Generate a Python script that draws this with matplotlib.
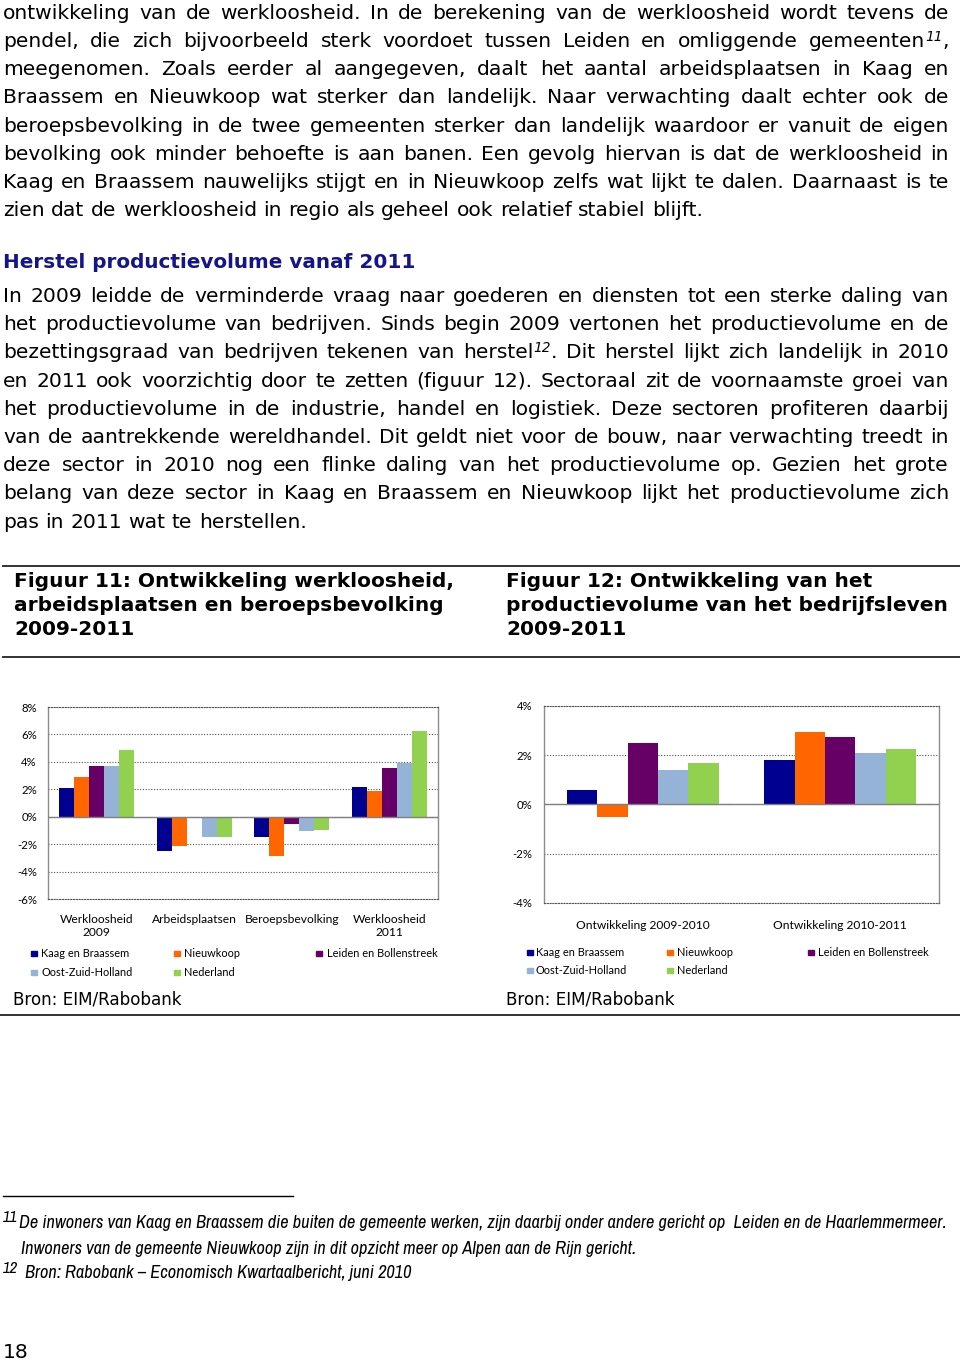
import matplotlib
matplotlib.use('Agg')
import matplotlib.pyplot as plt
from matplotlib.patches import Rectangle
from matplotlib import font_manager
from matplotlib.font_manager import FontProperties
import numpy as np

# reeksen en kleuren
series = ['Kaag en Braassem', 'Nieuwkoop', 'Leiden en Bollenstreek',
          'Oost-Zuid-Holland', 'Nederland']
colors = ['#000090', '#FF6600', '#660066', '#95B3D7', '#92D050']

# figuur 11
fig11_cats = ['Werkloosheid\n2009', 'Arbeidsplaatsen', 'Beroepsbevolking', 'Werkloosheid\n2011']
fig11_kaag = [2.1, -2.5, -1.45, 2.2]
fig11_nieuwkoop = [2.9, -2.15, -2.85, 1.9]
fig11_leiden = [3.7, -0.12, -0.55, 3.55]
fig11_ozh = [3.7, -1.5, -1.05, 3.9]
fig11_nl = [4.85, -1.5, -0.95, 6.25]

# figuur 12
fig12_cats = ['Ontwikkeling 2009-2010', 'Ontwikkeling 2010-2011']
fig12_kaag = [0.6, 1.8]
fig12_nieuwkoop = [-0.5, 2.93]
fig12_leiden = [2.5, 2.74]
fig12_ozh = [1.42, 2.1]
fig12_nl = [1.67, 2.26]

# '|' markeert een voetnootnummer (superscript)
para1 = [
    "ontwikkeling van de werkloosheid. In de berekening van de werkloosheid wordt tevens de",
    "pendel, die zich bijvoorbeeld sterk voordoet tussen Leiden en omliggende gemeenten|11|,",
    "meegenomen. Zoals eerder al aangegeven, daalt het aantal arbeidsplaatsen in Kaag en",
    "Braassem en Nieuwkoop wat sterker dan landelijk. Naar verwachting daalt echter ook de",
    "beroepsbevolking in de twee gemeenten sterker dan landelijk waardoor er vanuit de eigen",
    "bevolking ook minder behoefte is aan banen. Een gevolg hiervan is dat de werkloosheid in",
    "Kaag en Braassem nauwelijks stijgt en in Nieuwkoop zelfs wat lijkt te dalen. Daarnaast is te",
    "zien dat de werkloosheid in regio als geheel ook relatief stabiel blijft.",
]
heading = "Herstel productievolume vanaf 2011"
para2 = [
    "In 2009 leidde de verminderde vraag naar goederen en diensten tot een sterke daling van",
    "het productievolume van bedrijven. Sinds begin 2009 vertonen het productievolume en de",
    "bezettingsgraad van bedrijven tekenen van herstel|12|. Dit herstel lijkt zich landelijk in 2010",
    "en 2011 ook voorzichtig door te zetten (figuur 12). Sectoraal zit de voornaamste groei van",
    "het productievolume in de industrie, handel en logistiek. Deze sectoren profiteren daarbij",
    "van de aantrekkende wereldhandel. Dit geldt niet voor de bouw, naar verwachting treedt in",
    "deze sector in 2010 nog een flinke daling van het productievolume op. Gezien het grote",
    "belang van deze sector in Kaag en Braassem en Nieuwkoop lijkt het productievolume zich",
    "pas in 2011 wat te herstellen.",
]
title11 = ["Figuur 11: Ontwikkeling werkloosheid,", "arbeidsplaatsen en beroepsbevolking", "2009-2011"]
title12 = ["Figuur 12: Ontwikkeling van het", "productievolume van het bedrijfsleven", "2009-2011"]
bron = "Bron: EIM/Rabobank"
notes = [
    "De inwoners van Kaag en Braassem die buiten de gemeente werken, zijn daarbij onder andere gericht op  Leiden en de Haarlemmermeer.",
    "Inwoners van de gemeente Nieuwkoop zijn in dit opzicht meer op Alpen aan de Rijn gericht.",
    "Bron: Rabobank \u2013 Economisch Kwartaalbericht, juni 2010",
]

# smal cursief lettertype voor de voetnoten zoeken
note_path = None
for f in font_manager.fontManager.ttflist:
    fn = f.fname.lower()
    if 'narrow' in fn and 'italic' in fn and 'bold' not in fn:
        note_path = f.fname
        break
if note_path is None:
    for f in font_manager.fontManager.ttflist:
        fn = f.fname.lower()
        if 'condensed' in fn and 'oblique' in fn and 'bold' not in fn and 'dejavusans' in fn:
            note_path = f.fname
            break
if note_path:
    note_kw = dict(fontproperties=FontProperties(fname=note_path))
else:
    note_kw = dict(family='Liberation Sans', style='italic')
chart_font = 'Lato'

fig = plt.figure(figsize=(9.6, 13.6), dpi=100)
page = fig.add_axes([0, 0, 1, 1])
page.set_xlim(0, 960)
page.set_ylim(1360, 0)
page.axis('off')
renderer = fig.canvas.get_renderer()


def width(s, size, **kw):
    t = page.text(0, 0, s, **kw)
    t.set_fontsize(size)
    w = t.get_window_extent(renderer).width
    t.remove()
    return w


def fit(s, target, **kw):
    return 10 * target / width(s, 10, **kw)


def word(w, x, y, size, draw=True, **kw):
    # tekent een woord, eventueel met superscript, en geeft de breedte terug
    parts = w.split('|')
    total = 0
    for k, p in enumerate(parts):
        if not p:
            continue
        if k == 1:
            s, dy, extra = size * 0.68, -6.5, dict(style='italic')
        else:
            s, dy, extra = size, 0, {}
        if draw:
            page.text(x + total, y + dy, p, fontsize=s, va='baseline', **extra, **kw)
        total += width(p, s, **extra, **kw)
    return total


def justify(line, y, size, left=3, right=949, last=False, **kw):
    words = line.split(' ')
    ws = [word(w, 0, 0, size, draw=False, **kw) for w in words]
    if last:
        gap = width('a b', size, **kw) - width('ab', size, **kw)
    else:
        gap = (right - left - sum(ws)) / (len(words) - 1)
    x = left
    for w, wd in zip(words, ws):
        word(w, x, y, size, **kw)
        x += wd + gap


# lopende tekst
body = fit(para1[-1], 701)
for i, line in enumerate(para1):
    justify(line, 19 + i * 28.15, body, last=(i == len(para1) - 1))
page.text(3, 268, heading, fontsize=fit(heading, 412, weight='bold'),
          weight='bold', color='#15158A', va='baseline')
for i, line in enumerate(para2):
    justify(line, 302 + i * 28.2, body, last=(i == len(para2) - 1))

# figuurtitels
tsize = fit(title11[0], 439, weight='bold')
for i, (a, b) in enumerate(zip(title11, title12)):
    page.text(14, 587 + i * 24, a, fontsize=tsize, weight='bold', va='baseline')
    page.text(506, 587 + i * 24, b, fontsize=tsize, weight='bold', va='baseline')
page.plot([3, 960], [566, 566], color='#333333', lw=1.4)
page.plot([3, 960], [657, 657], color='#333333', lw=1.4)

bsize = fit(bron, 170)
page.text(13, 1004, bron, fontsize=bsize, va='baseline')
page.text(506, 1004, bron, fontsize=bsize, va='baseline')
page.plot([0, 960], [1015, 1015], color='#333333', lw=1.4)

# voetnoten
page.plot([3, 293], [1196, 1196], color='black', lw=1)
nsize = fit(notes[0], 929, **note_kw)
for s, x, y, sz in [('11', 3, 1222, nsize * 0.9), (notes[0], 19, 1228, nsize),
                    (notes[1], 21, 1254, nsize), ('12', 3, 1273, nsize * 0.9),
                    (notes[2], 25, 1278, nsize)]:
    t = page.text(x, y, s, va='baseline', **note_kw)
    t.set_fontsize(sz)
page.text(3, 1358, '18', fontsize=body, va='baseline')


def bar_chart(rect, cats, values, ymin, ymax, pad_y, pad_x, size_tick, size_cat):
    ax = fig.add_axes(rect)
    x = np.arange(len(cats))
    w = 0.77 / len(values)
    for j, vals in enumerate(values):
        ax.bar(x + (j - 2) * w, vals, w, color=colors[j], zorder=3)
    ax.set_xlim(-0.5, len(cats) - 0.5)
    ax.set_ylim(ymin, ymax)
    ticks = np.arange(ymin, ymax + 1, 2)
    ax.set_yticks(ticks)
    ax.set_yticklabels([f'{t:.0f}%' for t in ticks], family=chart_font, fontsize=size_tick)
    ax.set_xticks(x)
    ax.set_xticklabels(cats, family=chart_font, fontsize=size_cat)
    ax.tick_params(length=0)
    ax.tick_params(axis='y', pad=pad_y)
    ax.tick_params(axis='x', pad=pad_x)
    ax.set_axisbelow(True)
    ax.yaxis.grid(True, color='#555555', linestyle=(0, (1, 1.5)), lw=0.8)
    ax.axhline(0, color='#808080', lw=1, zorder=4)
    for s in ('top', 'bottom'):
        ax.spines[s].set_linestyle((0, (1, 1.5)))
        ax.spines[s].set_color('#555555')
        ax.spines[s].set_linewidth(0.8)
    for s in ('left', 'right'):
        ax.spines[s].set_color('#8C8C8C')
        ax.spines[s].set_linewidth(1)
    return ax


def legend(mark_x, text_x, rows_y, size):
    for i, name in enumerate(series):
        col, row = i % 3, i // 3
        y = rows_y[row]
        page.add_patch(Rectangle((mark_x[col], y - 2.5), 5.5, 5.5, color=colors[i]))
        page.text(text_x[col], y + 4, name, fontsize=size, family=chart_font, va='baseline')


tick_size = fit('-6%', 20, family=chart_font)
cat_size = fit('Arbeidsplaatsen', 85, family=chart_font)
leg_size = fit('Leiden en Bollenstreek', 111, family=chart_font)

bar_chart([48 / 960, (1360 - 899) / 1360, 390 / 960, 192 / 1360], fig11_cats,
          [fig11_kaag, fig11_nieuwkoop, fig11_leiden, fig11_ozh, fig11_nl],
          -6, 8, 8, 11, tick_size, cat_size)
bar_chart([544 / 960, (1360 - 903) / 1360, 395 / 960, 197 / 1360], fig12_cats,
          [fig12_kaag, fig12_nieuwkoop, fig12_leiden, fig12_ozh, fig12_nl],
          -4, 4, 8.6, 12, tick_size, cat_size)
legend([31, 174, 316], [41, 184, 327], [953, 972], leg_size)
legend([527, 667, 808], [536, 677, 818], [952, 970], leg_size)

fig.savefig('out.png', dpi=100)
